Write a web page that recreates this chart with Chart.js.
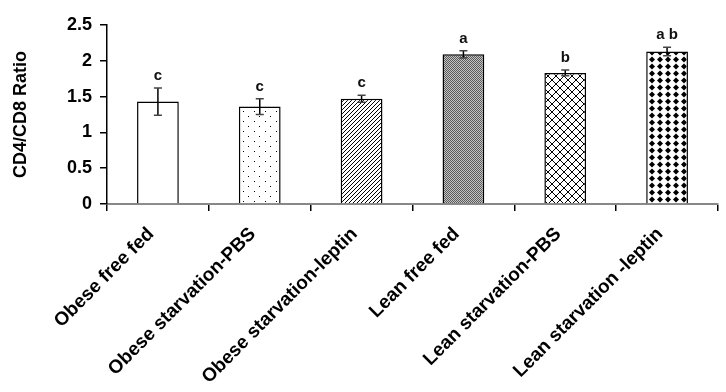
<!DOCTYPE html>
<html>
<head>
<meta charset="utf-8">
<script src="https://cdn.jsdelivr.net/npm/chart.js@4.4.1/dist/chart.umd.min.js"></script>
<style>
  html, body { margin: 0; padding: 0; background: #fff; }
  #wrap { width: 726px; height: 392px; position: relative; }
</style>
</head>
<body>
<div id="wrap"><canvas id="chart"></canvas></div>
<script>
  // ─── Data ──────────────────────────────────────────────────────────────────

  const categories = [
    "Obese free fed",
    "Obese starvation-PBS",
    "Obese starvation-leptin",
    "Lean free fed",
    "Lean starvation-PBS",
    "Lean starvation -leptin"
  ];
  const ratios = [1.43, 1.36, 1.47, 2.09, 1.83, 2.13];
  const errors = [0.19, 0.11, 0.05, 0.05, 0.04, 0.06];
  const letters = ["c", "c", "c", "a", "b", "a b"];
  const yTicks = [0, 0.5, 1, 1.5, 2, 2.5];

  const FONT = "'Liberation Sans', Arial, sans-serif";

  // ─── Fill patterns ─────────────────────────────────────────────────────────

  function tile(w, h, draw) {
    const c = document.createElement("canvas");
    c.width = w; c.height = h;
    const g = c.getContext("2d");
    g.fillStyle = "#fff";
    g.fillRect(0, 0, w, h);
    draw(g);
    return document.createElement("canvas").getContext("2d").createPattern(c, "repeat");
  }

  const patterns = [
    "#ffffff",
    tile(11, 10, (g) => {            // sparse dots
      g.fillStyle = "#000";
      g.fillRect(1, 1, 1, 1);
      g.fillRect(6, 6, 1, 1);
    }),
    tile(4, 4, (g) => {              // diagonal hatch
      g.fillStyle = "#000";
      for (let i = 0; i < 4; i++) g.fillRect(i, 3 - i, 1, 1);
    }),
    tile(2, 2, (g) => {              // fine grey checker
      g.fillStyle = "#c4c4c4";
      g.fillRect(0, 0, 2, 2);
      g.fillStyle = "#5a5a5a";
      g.fillRect(0, 0, 1, 1);
      g.fillRect(1, 1, 1, 1);
    }),
    tile(8, 8, (g) => {              // cross hatch
      g.fillStyle = "#000";
      for (let i = 0; i < 8; i++) {
        g.fillRect(i, i, 1, 1);
        g.fillRect(i, 7 - i, 1, 1);
      }
    }),
    tile(8, 7, (g) => {              // black diamonds
      g.fillStyle = "#000";
      g.beginPath();
      g.moveTo(4, 0.5);
      g.lineTo(7, 3.5);
      g.lineTo(4, 6.5);
      g.lineTo(1, 3.5);
      g.closePath();
      g.fill();
    })
  ];

  // ─── Error bars + letters ──────────────────────────────────────────────────

  const errorBars = {
    id: "errorBars",
    afterDatasetsDraw(chart) {
      const { ctx, scales } = chart;
      const meta = chart.getDatasetMeta(0);
      ctx.save();
      meta.data.forEach((bar, i) => {
        const x = bar.x;
        const yHi = scales.y.getPixelForValue(ratios[i] + errors[i]);
        const yLo = scales.y.getPixelForValue(ratios[i] - errors[i]);
        ctx.strokeStyle = "#000";
        ctx.lineWidth = 1.5;
        ctx.beginPath();
        ctx.moveTo(x, yHi); ctx.lineTo(x, yLo);
        ctx.stroke();
        ctx.strokeStyle = "#444";
        ctx.beginPath();
        ctx.moveTo(x - 4, yHi); ctx.lineTo(x + 4, yHi);
        ctx.moveTo(x - 4, yLo); ctx.lineTo(x + 4, yLo);
        ctx.stroke();

        ctx.fillStyle = "#111";
        ctx.font = "bold 15px " + FONT;
        ctx.textAlign = "center";
        ctx.textBaseline = "middle";
        ctx.fillText(letters[i], x, yHi - 12);
      });
      ctx.restore();
    }
  };

  // ─── Chart ─────────────────────────────────────────────────────────────────

  new Chart(document.getElementById("chart"), {
    type: "bar",
    data: {
      labels: categories,
      datasets: [{
        data: ratios,
        backgroundColor: patterns,
        borderColor: "#000",
        borderWidth: 1.5,
        borderSkipped: "bottom",
        categoryPercentage: 1,
        barPercentage: 0.41
      }]
    },
    options: {
      responsive: true,
      maintainAspectRatio: false,
      animation: false,
      layout: { padding: { top: 25, right: 8, left: 0, bottom: 0 } },
      plugins: { legend: { display: false }, tooltip: { enabled: false } },
      scales: {
        x: {
          grid: { drawOnChartArea: false, offset: true, color: "#000", tickLength: 7, lineWidth: 1.5 },
          border: { color: "#888", width: 2 },
          ticks: {
            autoSkip: false,
            minRotation: 45,
            maxRotation: 45,
            color: "#000",
            padding: 12,
            labelOffset: -7,
            font: { family: FONT, size: 19, weight: "bold" }
          },
          afterFit: (s) => { s.height = 392 - 25 - 179; }
        },
        y: {
          min: 0,
          max: 2.5,
          afterBuildTicks: (s) => { s.ticks = yTicks.map((v) => ({ value: v })); },
          grid: { drawOnChartArea: false, color: "#000", tickLength: 7, lineWidth: 1.5 },
          border: { color: "#000", width: 1.5 },
          ticks: {
            color: "#000",
            padding: 8,
            callback: (v) => String(v),
            font: { family: FONT, size: 18, weight: "bold" }
          },
          title: {
            display: true,
            text: "CD4/CD8 Ratio",
            color: "#000",
            padding: { top: 10, bottom: 0 },
            font: { family: FONT, size: 18, weight: "bold" }
          },
          afterFit: (s) => { s.width = 107; }
        }
      }
    },
    plugins: [errorBars]
  });
</script>
</body>
</html>
